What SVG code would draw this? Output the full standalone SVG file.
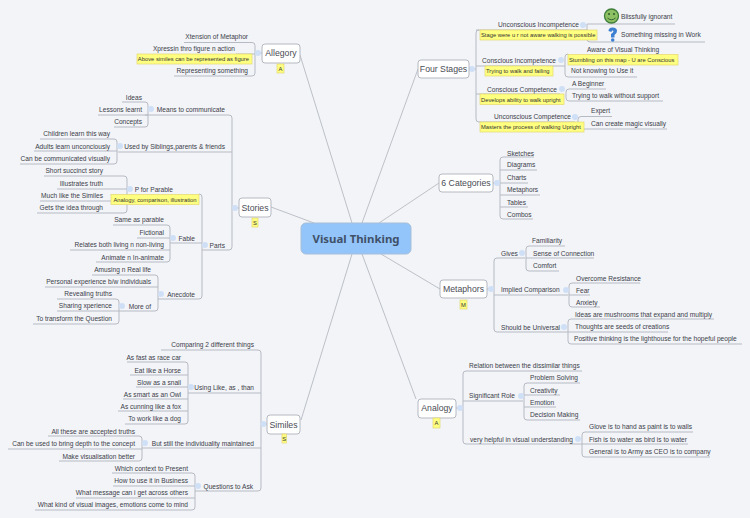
<svg xmlns="http://www.w3.org/2000/svg" width="750" height="518" viewBox="0 0 750 518">
<style>
text{font-family:"Liberation Sans","Noto Sans",sans-serif;font-size:6.600px;fill:#3c4048;dominant-baseline:central}
.e{text-anchor:end}
.m{text-anchor:middle}
.t{font-size:8.700px;fill:#4a4d55}
.y{font-size:5.800px;fill:#333}
.c{font-family:"Noto Sans",sans-serif;font-size:11.400px;font-weight:bold;fill:#3f5068}
.b{fill:#ffff80;stroke:#e6d870;stroke-width:.7}
.n{fill:#fff;stroke:#b4b8c0;stroke-width:1}
.o{fill:#cfe0f6;stroke:none}
.l{fill:none;stroke:#b6bac2;stroke-width:1}
.k{fill:none;stroke:#aeb2ba;stroke-width:.8}
</style>
<rect width="750" height="518" fill="#f2f4f8"/>
<g id="connectors">
<path class="k" d="M300 55L352 223M271 207L314 223M301 420L352 254M418 69L362 223M439 183L379 223M440 289L381 254M416 399L362 254"/>
<path class="l" d="M184 42.5H252Q255 42.5 255 45.5V73Q255 76 252 76H174M255 53H262M236 54H255"/>
<path class="l" d="M145 115H229Q232 115 232 118V247Q232 250 229 250H202M118 152H232M232 208H239"/>
<path class="l" d="M122 102H145Q148 102 148 105V124Q148 127 145 127H114M98 115H148"/>
<path class="l" d="M40 139H114Q117 139 117 142V161Q117 164 114 164H20M34 151H117"/>
<path class="l" d="M44 176H124Q127 176 127 179V210Q127 213 124 213H37M57 189H127M40 201H127"/>
<path class="l" d="M199 194Q202 194 202 197V296Q202 299 199 299H158M170 243H202"/>
<path class="l" d="M113 225H167Q170 225 170 228V259Q170 262 167 262H96M137 238H170M70 250H170"/>
<path class="l" d="M92 275H155Q158 275 158 278V308Q158 311 155 311H119M45 287H158"/>
<path class="l" d="M57 299H116Q119 299 119 302V321Q119 324 116 324H33M57 311H119"/>
<path class="l" d="M161 350H258Q261 350 261 353V488Q261 491 258 491H195M188 393H261M142 448H261M261 424H267"/>
<path class="l" d="M127 362H185Q188 362 188 365V421Q188 424 185 424H125M130 375H188M136 387H188M123 399H188M118 411H188"/>
<path class="l" d="M48 436H139Q142 436 142 439V458Q142 461 139 461H59M8 449H142"/>
<path class="l" d="M112 473H192Q195 473 195 476V507Q195 510 192 510H35M113 486H195M76 498H195"/>
<path class="l" d="M479 30Q476 30 476 33V119Q476 122 479 122H575M476 30H585M476 66H562M476 94H560M469 69H476"/>
<path class="l" d="M587 24H675M585 30H587M587 24V39Q587 42 590 42H705"/>
<path class="l" d="M568 54Q565 54 565 57V74Q565 77 568 77H637M562 66H565"/>
<path class="l" d="M606 89H569Q566 89 566 92V98Q566 101 569 101H663"/>
<path class="l" d="M612 116.500H581Q578 116.500 578 119.500V126Q578 129 581 129H667"/>
<path class="l" d="M534 157H503Q500 157 500 160V216Q500 219 503 219H533M500 170H537M500 183H528M500 195H540M500 207H528M493 183H500"/>
<path class="l" d="M525 258H497Q494 258 494 261V329Q494 332 497 332H565M494 295H568M487 289H494"/>
<path class="l" d="M565 246H529Q526 246 526 249V268Q526 271 529 271H559M526 258H594"/>
<path class="l" d="M640 283H572Q569 283 569 286V304Q569 307 572 307H600M569 295H590"/>
<path class="l" d="M714 319H571Q568 319 568 322V341Q568 344 571 344H742M565 332H668"/>
<path class="l" d="M582 371H466Q463 371 463 374V441Q463 444 466 444H577M463 401H523M456 408H463"/>
<path class="l" d="M580 383H527Q524 383 524 386V417Q524 420 527 420H580M524 395H560M524 407H556"/>
<path class="l" d="M693 432H585Q582 432 582 435V454Q582 457 585 457H710M577 444H688"/>
</g>
<g id="central"><rect x="301" y="223" width="110" height="31" rx="5" fill="#93c5fb" stroke="#a6bfd9"/><text class="c m" x="356" y="238.500">Visual Thinking</text></g>
<g id="allegory"><circle class="o" cx="258" cy="53" r="3"/><rect class="n" x="262" y="44" width="38" height="19" rx="3"/><text class="t m" x="281" y="53">Allegory</text><rect class="b" x="277" y="64" width="7" height="9"/><text class="y m" x="280.500" y="68.500">A</text></g>
<g id="a1"><text class="e" x="248" y="36">Xtension of Metaphor</text></g>
<g id="a2"><text class="e" x="235" y="48.500">Xpressin thro figure n action</text><rect class="b" x="137" y="54" width="115" height="10"/><text class="y e" x="249" y="59">Above similes can be represented as figure</text></g>
<g id="a3"><text class="e" x="248" y="70">Representing something</text></g>
<g id="stories"><circle class="o" cx="235" cy="208" r="3"/><rect class="n" x="239" y="198" width="32" height="19" rx="3"/><text class="t m" x="255" y="208">Stories</text><rect class="b" x="252" y="218" width="6" height="9"/><text class="y m" x="255" y="222.500">S</text></g>
<g id="s1"><circle class="o" cx="151" cy="109" r="3"/><text class="e" x="225" y="109">Means to communicate</text></g>
<g id="s1a"><text class="e" x="142" y="97.500">Ideas</text></g>
<g id="s1b"><text class="e" x="142" y="109.500">Lessons learnt</text></g>
<g id="s1c"><text class="e" x="142" y="121.500">Concepts</text></g>
<g id="s2"><circle class="o" cx="120" cy="146" r="3"/><text class="e" x="225" y="146">Used by Siblings,parents &amp; friends</text></g>
<g id="s2a"><text class="e" x="110" y="133.500">Children learn this way</text></g>
<g id="s2b"><text class="e" x="110" y="146">Adults learn unconciously</text></g>
<g id="s2c"><text class="e" x="110" y="158">Can be communicated visually</text></g>
<g id="s3"><circle class="o" cx="130" cy="189" r="3"/><text class="e" x="173" y="189">P for Parable</text><rect class="b" x="111" y="194.500" width="88" height="10"/><text class="y m" x="155" y="199.500">Analogy, comparison, illustration</text></g>
<g id="s3a"><text class="e" x="103" y="170.500">Short succinct story</text></g>
<g id="s3b"><text class="e" x="103" y="183.500">Illustrates truth</text></g>
<g id="s3c"><text class="e" x="103" y="195.500">Much like the Similes</text></g>
<g id="s3d"><text class="e" x="103" y="207">Gets the idea through</text></g>
<g id="s4"><circle class="o" cx="205" cy="245" r="3"/><text class="e" x="225" y="245">Parts</text></g>
<g id="s5"><circle class="o" cx="173" cy="238" r="3"/><text class="e" x="195" y="238.500">Fable</text></g>
<g id="s5a"><text class="e" x="164" y="219.500">Same as parable</text></g>
<g id="s5b"><text class="e" x="164" y="232.500">Fictional</text></g>
<g id="s5c"><text class="e" x="164" y="244.500">Relates both living n non-living</text></g>
<g id="s5d"><text class="e" x="164" y="257">Animate n In-animate</text></g>
<g id="s6"><circle class="o" cx="161" cy="294" r="3"/><text class="e" x="195" y="294">Anecdote</text></g>
<g id="s6a"><text class="e" x="151" y="269">Amusing n Real life</text></g>
<g id="s6b"><text class="e" x="151" y="281">Personal experience b/w individuals</text></g>
<g id="s7"><circle class="o" cx="122" cy="306" r="3"/><text class="e" x="151" y="306">More of</text></g>
<g id="s7a"><text class="e" x="112" y="293">Revealing truths</text></g>
<g id="s7b"><text class="e" x="112" y="305.500">Sharing xperience</text></g>
<g id="s7c"><text class="e" x="112" y="318">To transform the Question</text></g>
<g id="similes"><circle class="o" cx="263.500" cy="424" r="3"/><rect class="n" x="267" y="415" width="33" height="19" rx="3"/><text class="t m" x="283.500" y="424.500">Similes</text><rect class="b" x="282" y="434" width="4.500" height="9"/><text class="y m" x="284.200" y="438.500">S</text></g>
<g id="m1"><text class="e" x="254" y="344.500">Comparing 2 different things</text></g>
<g id="m2"><circle class="o" cx="191" cy="387" r="3"/><text class="e" x="254" y="387">Using Like, as , than</text></g>
<g id="m2a"><text class="e" x="181" y="357.500">As fast as race car</text></g>
<g id="m2b"><text class="e" x="181" y="370">Eat like a Horse</text></g>
<g id="m2c"><text class="e" x="181" y="382">Slow as a snail</text></g>
<g id="m2d"><text class="e" x="181" y="394">As smart as an Owl</text></g>
<g id="m2e"><text class="e" x="181" y="406">As cunning like a fox</text></g>
<g id="m2f"><text class="e" x="181" y="418">To work like a dog</text></g>
<g id="m3"><circle class="o" cx="145" cy="443" r="3"/><text class="e" x="254" y="443">But still the individuality maintained</text></g>
<g id="m3a"><text class="e" x="135" y="431">All these are accepted truths</text></g>
<g id="m3b"><text class="e" x="135" y="443">Can be used to bring depth to the concept</text></g>
<g id="m3c"><text class="e" x="135" y="456">Make visualisation better</text></g>
<g id="m4"><circle class="o" cx="198" cy="486" r="3"/><text class="e" x="253" y="486">Questions to Ask</text></g>
<g id="m4a"><text class="e" x="188" y="468">Which context to Present</text></g>
<g id="m4b"><text class="e" x="188" y="480.500">How to use it in Business</text></g>
<g id="m4c"><text class="e" x="188" y="492">What message can i get across others</text></g>
<g id="m4d"><text class="e" x="188" y="504">What kind of visual images, emotions come to mind</text></g>
<g id="four"><circle class="o" cx="472" cy="69" r="3"/><rect class="n" x="418" y="60" width="51" height="18" rx="3"/><text class="t m" x="443.500" y="69">Four Stages</text></g>
<g id="f1"><circle class="o" cx="583" cy="25" r="3"/><text x="498" y="24.500">Unconscious Incompetence</text><rect class="b" x="480" y="30" width="117" height="10"/><text class="y" x="481" y="35">Stage were u r not aware walking is possible</text></g>
<g id="f1a"><circle cx="611.500" cy="16" r="7" fill="#8cc063" stroke="#3f7d3a" stroke-width="1.300"/><circle cx="609" cy="14" r="1" fill="#2d5a2a"/><circle cx="614" cy="14" r="1" fill="#2d5a2a"/><path d="M607.500 18Q611.500 21.500 615.500 18" fill="none" stroke="#2d5a2a" stroke-width=".9"/><text x="621" y="16">Blissfully ignorant</text></g>
<g id="f1b"><path d="M608.500 31Q608.500 27.500 612.500 27.500Q617 27.500 617 31Q617 33.500 614.500 35V37.500H611V34Q613.500 32.500 613.500 31Q613.500 30.500 612.500 30.500Q611.500 30.500 611.500 32Z" fill="#3d7fd0"/><circle cx="612.700" cy="40" r="1.800" fill="#3d7fd0"/><text x="621" y="34">Something missing in Work</text></g>
<g id="f2"><circle class="o" cx="561" cy="60" r="3"/><text x="482" y="60">Conscious Incompetence</text><rect class="b" x="485" y="66" width="68" height="10"/><text class="y" x="486" y="71">Trying to walk and failing</text></g>
<g id="f2a"><text x="587" y="49">Aware of Visual Thinking</text><rect class="b" x="568" y="54.500" width="110" height="10.500"/><text class="y" x="569" y="60">Stumbling on this map - U are Conscious</text></g>
<g id="f2b"><text x="571" y="70.500">Not knowing to Use it</text></g>
<g id="f3"><circle class="o" cx="562" cy="89" r="3"/><text x="487" y="89">Conscious Competence</text><rect class="b" x="480" y="94" width="84" height="10.500"/><text class="y" x="481" y="99.500">Develops ability to walk upright</text></g>
<g id="f3a"><text x="572" y="83">A Beginner</text></g>
<g id="f3b"><text x="572" y="95">Trying to walk without support</text></g>
<g id="f4"><circle class="o" cx="575" cy="117" r="3"/><text x="494" y="116.500">Unconscious Competence</text><rect class="b" x="480" y="122" width="104" height="10"/><text class="y" x="481" y="127">Masters the process of walking Upright</text></g>
<g id="f4a"><text x="591" y="110.500">Expert</text></g>
<g id="f4b"><text x="591" y="123">Can create magic visually</text></g>
<g id="cat"><circle class="o" cx="497" cy="183" r="3"/><rect class="n" x="439" y="174" width="54" height="18" rx="3"/><text class="t m" x="466" y="183">6 Categories</text></g>
<g id="c1"><text x="507" y="153">Sketches</text></g>
<g id="c2"><text x="507" y="164.500">Diagrams</text></g>
<g id="c3"><text x="507" y="177.500">Charts</text></g>
<g id="c4"><text x="507" y="189.500">Metaphors</text></g>
<g id="c5"><text x="507" y="202">Tables</text></g>
<g id="c6"><text x="507" y="214.500">Combos</text></g>
<g id="metaphors"><circle class="o" cx="491" cy="289" r="3"/><rect class="n" x="440" y="280" width="47" height="18" rx="3"/><text class="t m" x="463.500" y="289">Metaphors</text><rect class="b" x="460" y="300" width="7" height="9"/><text class="y m" x="463.500" y="304.500">M</text></g>
<g id="t1"><circle class="o" cx="522" cy="253" r="3"/><text x="501" y="253.500">Gives</text></g>
<g id="t1a"><text x="532" y="240">Familiarity</text></g>
<g id="t1b"><text x="533" y="253.500">Sense of Connection</text></g>
<g id="t1c"><text x="533" y="265.500">Comfort</text></g>
<g id="t2"><circle class="o" cx="566" cy="290" r="3"/><text x="501" y="289.500">Implied Comparison</text></g>
<g id="t2a"><text x="576" y="278">Overcome Resistance</text></g>
<g id="t2b"><text x="576" y="290">Fear</text></g>
<g id="t2c"><text x="576" y="302">Anxiety</text></g>
<g id="t3"><circle class="o" cx="564" cy="327" r="3"/><text x="501" y="327">Should be Universal</text></g>
<g id="t3a"><text x="575" y="314">Ideas are mushrooms that expand and multiply</text></g>
<g id="t3b"><text x="575" y="326.500">Thoughts are seeds of creations</text></g>
<g id="t3c"><text x="574" y="338.500">Positive thinking is the lighthouse for the hopeful people</text></g>
<g id="analogy"><circle class="o" cx="460" cy="408" r="3"/><rect class="n" x="418" y="399" width="38" height="19" rx="3"/><text class="t m" x="437" y="408">Analogy</text><rect class="b" x="433" y="418" width="7" height="10"/><text class="y m" x="436.500" y="423">A</text></g>
<g id="g1"><text x="469" y="365">Relation between the dissimilar things</text></g>
<g id="g2"><circle class="o" cx="521" cy="396" r="3"/><text x="469" y="395.500">Significant Role</text></g>
<g id="g2a"><text x="530" y="377.500">Problem Solving</text></g>
<g id="g2b"><text x="530" y="390">Creativity</text></g>
<g id="g2c"><text x="530" y="402.500">Emotion</text></g>
<g id="g2d"><text x="530" y="414.500">Decision Making</text></g>
<g id="g3"><circle class="o" cx="578" cy="439" r="3"/><text x="470" y="439">very helpful in visual understanding</text></g>
<g id="g3a"><text x="589" y="426.500">Glove is to hand as paint is to walls</text></g>
<g id="g3b"><text x="589" y="439.500">Fish is to water as bird is to water</text></g>
<g id="g3c"><text x="589" y="451">General is to Army as CEO is to company</text></g>
</svg>
